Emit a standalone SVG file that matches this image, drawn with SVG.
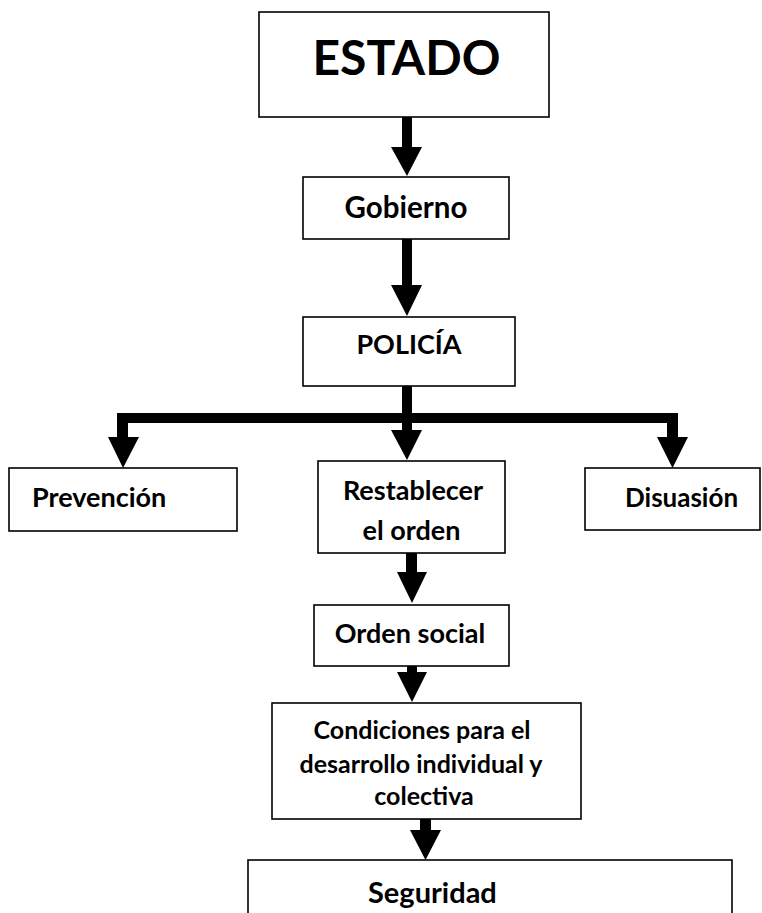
<svg xmlns="http://www.w3.org/2000/svg" width="762" height="913" viewBox="0 0 762 913">
<style>
.box{fill:#fff;stroke:#000;stroke-width:1.6}
.t{font-family:Lato,"Open Sans","Liberation Sans",sans-serif;font-weight:bold;fill:#000}
.c{text-anchor:middle}
.arr{fill:#000;stroke:none}
</style>
<rect width="762" height="913" fill="#fff"/>
<g id="connectors">
<path class="arr" d="M402,117 H412 V147 H422 L407,176 L391,147 H402 Z"/>
<path class="arr" d="M402,239 H412 V285 H422 L407,316 L391,285 H402 Z"/>
<path class="arr" d="M402,386 H412 V413 H678 V437 H688 L672.5,468 L657,437 H667 V423 H412 V430 H422 L407,460 L391,430 H402 V423 H128 V437 H139 L123,468 L108,437 H117 V413 H402 Z"/>
<path class="arr" d="M406,553 H417 V572 H427 L412,603 L397,572 H406 Z"/>
<path class="arr" d="M407,666 H417 V672 H427 L412,702 L397,672 H407 Z"/>
<path class="arr" d="M420,819 H431 V830 H441 L425.5,860 L410,830 H420 Z"/>
</g>
<g id="estado"><rect class="box" x="259" y="12" width="290" height="105"/><text class="t c" x="406.5" y="75" font-size="48">ESTADO</text></g>
<g id="gobierno"><rect class="box" x="303" y="177" width="206" height="62"/><text class="t c" x="406" y="218" font-size="29.5">Gobierno</text></g>
<g id="policia"><rect class="box" x="303" y="317" width="212" height="69"/><text class="t c" x="409" y="354" font-size="27">POLICÍA</text></g>
<g id="prevencion"><rect class="box" x="9" y="468" width="228" height="63"/><text class="t" x="32" y="507" font-size="27">Prevención</text></g>
<g id="restablecer"><rect class="box" x="318" y="461" width="187" height="92"/><text class="t c" x="413" y="500" font-size="27">Restablecer</text><text class="t c" x="411.5" y="540" font-size="27">el orden</text></g>
<g id="disuasion"><rect class="box" x="585" y="468" width="175" height="62"/><text class="t" x="625" y="507" font-size="26">Disuasión</text></g>
<g id="orden-social"><rect class="box" x="314" y="605" width="195" height="61"/><text class="t c" x="410" y="643" font-size="27">Orden social</text></g>
<g id="condiciones"><rect class="box" x="272" y="703" width="309" height="116"/><text class="t c" x="422" y="739" font-size="25">Condiciones para el</text><text class="t c" x="421" y="773" font-size="25">desarrollo individual y</text><text class="t c" x="424" y="805" font-size="25">colectiva</text></g>
<g id="seguridad"><rect class="box" x="248" y="860" width="484" height="80"/><text class="t" x="368" y="903" font-size="29">Seguridad</text></g>
</svg>
